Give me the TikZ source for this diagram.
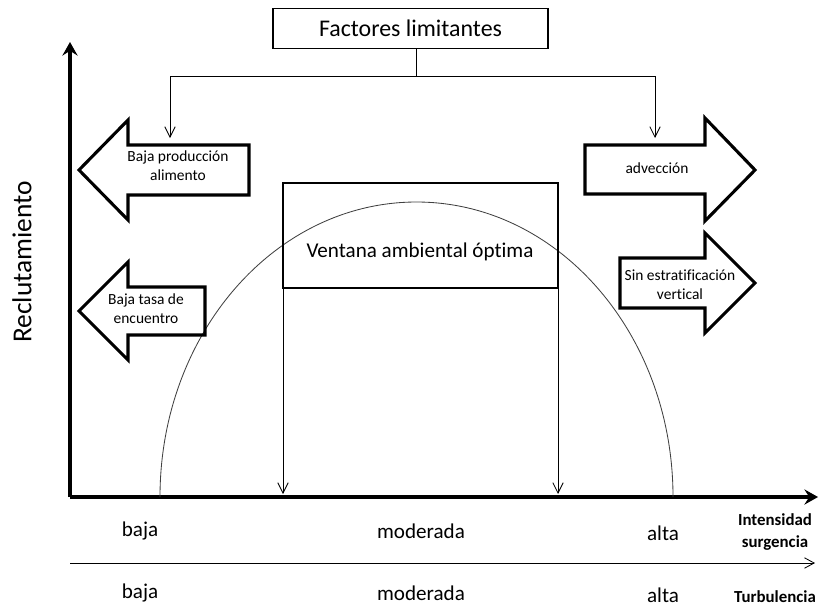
\documentclass[tikz,border=0pt]{standalone}
\usepackage{fontspec}
\setmainfont{Carlito}[Ligatures=NoCommon]
\usetikzlibrary{arrows.meta}

\begin{document}
\begin{tikzpicture}[x=0.025cm,y=-0.025cm,
        caja/.style={draw,line width=0.8pt},
        flecha/.style={draw,line width=2.2pt,line join=miter},
        guia/.style={line width=0.6pt,-{Straight Barb[length=2.6mm,width=2.6mm]}},
        eje/.style={line width=2.6pt,-{Stealth[length=3.4mm,width=3.8mm,inset=1.2mm]}},
        texto/.style={align=center,font=\fontsize{11}{13.5}\selectfont},
        nivel/.style={inner sep=1pt,font=\fontsize{15}{18}\selectfont},
        rotulo/.style={inner sep=1pt,align=center,font=\fontsize{12}{15}\selectfont\bfseries}]
        \useasboundingbox (0,0) rectangle (819,607);
        % ejes
        \coordinate (O) at (70,497);
        \draw[eje] (O) -- (70,42) coordinate (ytop);
        \draw[eje] (O) -- (818,497) coordinate (xend);
        \node[rotate=90,font=\fontsize{19.5}{22}\selectfont] (reclu) at (22,262) {Reclutamiento};
        % curva
        \draw[line width=0.6pt,black!75] (160,497) arc[start angle=180,end angle=360,x radius=256.5,y radius=295];
        % factores limitantes
        \node[caja,minimum width=6.875cm,minimum height=1cm,font=\fontsize{17}{20}\selectfont] (factores) at (410.5,28.5) {Factores limitantes};
        \coordinate (rama) at (416,76);
        \coordinate (ramaI) at (170,76);
        \coordinate (ramaD) at (655,76);
        \draw[line width=0.6pt] (factores.south -| rama) -- (rama);
        \draw[line width=0.6pt] (ramaI) -- (ramaD);
        \draw[guia] (ramaI) -- (170,138) coordinate (finI);
        \draw[guia] (ramaD) -- (655,138) coordinate (finD);
        % flechas izquierda
        \draw[flecha] (79,170) -- (128,120) -- (128,145) -- (249,145) -- (249,195) -- (128,195) -- (128,220) -- cycle;
        \node[texto] (prod) at (178,166) {Baja producción\\alimento};
        \draw[flecha] (79,311) -- (128,262) -- (128,287) -- (205,287) -- (205,335) -- (128,335) -- (128,360) -- cycle;
        \node[texto] (tasa) at (146,309) {Baja tasa de\\encuentro};
        % flechas derecha
        \draw[flecha] (755,170) -- (705,118) -- (705,145) -- (585,145) -- (585,194) -- (705,194) -- (705,221) -- cycle;
        \node[texto] (advec) at (657,168) {advección};
        \draw[flecha] (755,283) -- (705,233) -- (705,258) -- (620,258) -- (620,308) -- (705,308) -- (705,333) -- cycle;
        \node[texto] (estrat) at (680,285) {Sin estratificación\\vertical};
        % ventana
        \draw[caja] (283,183) rectangle (558,288);
        \coordinate (vsi) at (283,288);
        \coordinate (vsd) at (558,288);
        \node[nivel] (ventana) at (420,252) {Ventana ambiental óptima};
        \draw[guia] (vsi) -- (283,494) coordinate (vfi);
        \draw[guia] (vsd) -- (558,494) coordinate (vfd);
        % niveles
        \node[nivel] (baja1) at (140,531) {baja};
        \node[nivel] (mod1) at (421,531) {moderada};
        \node[nivel] (alta1) at (663,533) {alta};
        \node[rotulo] (surg) at (775,532) {Intensidad\\surgencia};
        \coordinate (tI) at (70,563);
        \coordinate (tD) at (815,563);
        \draw[line width=0.6pt,-{Straight Barb[length=2.4mm,width=2.6mm]}] (tI) -- (tD);
        \node[nivel] (baja2) at (140,593) {baja};
        \node[nivel] (mod2) at (421,593) {moderada};
        \node[nivel] (alta2) at (663,595) {alta};
        \node[rotulo] (turb) at (775,597) {Turbulencia};
\end{tikzpicture}
\end{document}
